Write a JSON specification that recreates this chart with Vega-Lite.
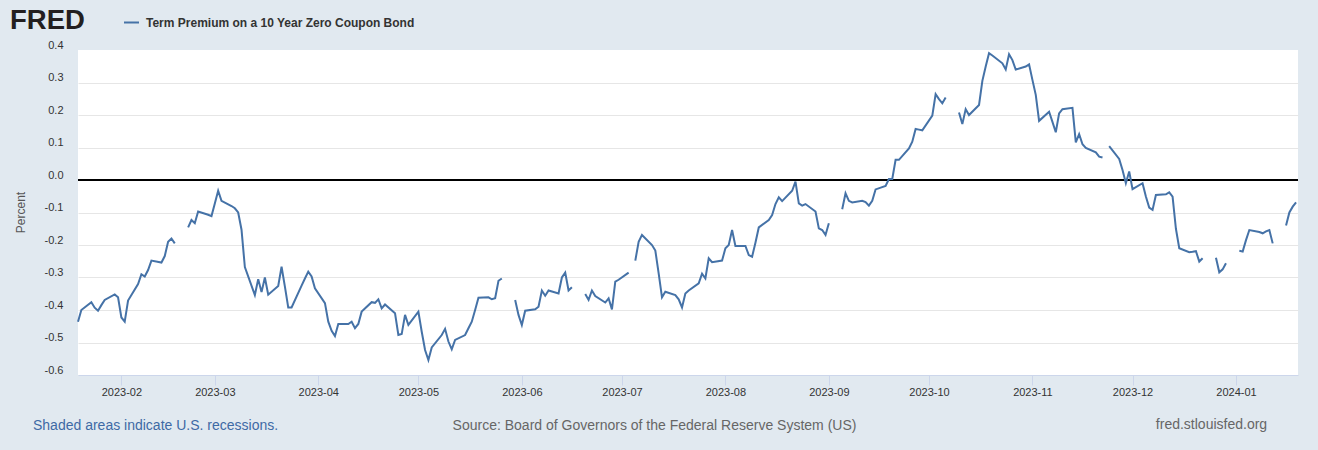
{
  "$schema": "https://vega.github.io/schema/vega-lite/v6.json",
  "width": 1220,
  "height": 325,
  "autosize": {"type": "none"},
  "padding": {"left": 78, "top": 50, "right": 20, "bottom": 75},
  "background": "#e1e9f0",
  "config": {
    "view": {"fill": "#ffffff", "stroke": null},
    "font": "Liberation Sans"
  },
  "title": {
    "text": "Shaded areas indicate U.S. recessions.",
    "orient": "bottom",
    "anchor": "start",
    "frame": "group",
    "dx": -45,
    "offset": -6,
    "baseline": "middle",
    "fontSize": 14,
    "fontWeight": "normal",
    "font": "Liberation Sans",
    "color": "#3e6aa5"
  },
  "data": {
    "values": [
      {"date": "2023-01-19", "value": -0.436},
      {"date": "2023-01-20", "value": -0.400},
      {"date": "2023-01-23", "value": -0.376},
      {"date": "2023-01-24", "value": -0.393},
      {"date": "2023-01-25", "value": -0.402},
      {"date": "2023-01-26", "value": -0.385},
      {"date": "2023-01-27", "value": -0.369},
      {"date": "2023-01-30", "value": -0.352},
      {"date": "2023-01-31", "value": -0.361},
      {"date": "2023-02-01", "value": -0.423},
      {"date": "2023-02-02", "value": -0.436},
      {"date": "2023-02-03", "value": -0.371},
      {"date": "2023-02-06", "value": -0.320},
      {"date": "2023-02-07", "value": -0.290},
      {"date": "2023-02-08", "value": -0.297},
      {"date": "2023-02-09", "value": -0.277},
      {"date": "2023-02-10", "value": -0.248},
      {"date": "2023-02-13", "value": -0.254},
      {"date": "2023-02-14", "value": -0.234},
      {"date": "2023-02-15", "value": -0.190},
      {"date": "2023-02-16", "value": -0.180},
      {"date": "2023-02-17", "value": -0.195},
      {"date": "2023-02-20", "value": null},
      {"date": "2023-02-21", "value": -0.146},
      {"date": "2023-02-22", "value": -0.123},
      {"date": "2023-02-23", "value": -0.133},
      {"date": "2023-02-24", "value": -0.097},
      {"date": "2023-02-27", "value": -0.107},
      {"date": "2023-02-28", "value": -0.111},
      {"date": "2023-03-01", "value": -0.072},
      {"date": "2023-03-02", "value": -0.033},
      {"date": "2023-03-03", "value": -0.064},
      {"date": "2023-03-06", "value": -0.080},
      {"date": "2023-03-07", "value": -0.087},
      {"date": "2023-03-08", "value": -0.100},
      {"date": "2023-03-09", "value": -0.153},
      {"date": "2023-03-10", "value": -0.268},
      {"date": "2023-03-13", "value": -0.354},
      {"date": "2023-03-14", "value": -0.305},
      {"date": "2023-03-15", "value": -0.345},
      {"date": "2023-03-16", "value": -0.300},
      {"date": "2023-03-17", "value": -0.353},
      {"date": "2023-03-20", "value": -0.326},
      {"date": "2023-03-21", "value": -0.267},
      {"date": "2023-03-22", "value": -0.328},
      {"date": "2023-03-23", "value": -0.392},
      {"date": "2023-03-24", "value": -0.392},
      {"date": "2023-03-27", "value": -0.325},
      {"date": "2023-03-28", "value": -0.303},
      {"date": "2023-03-29", "value": -0.282},
      {"date": "2023-03-30", "value": -0.297},
      {"date": "2023-03-31", "value": -0.333},
      {"date": "2023-04-03", "value": -0.379},
      {"date": "2023-04-04", "value": -0.436},
      {"date": "2023-04-05", "value": -0.464},
      {"date": "2023-04-06", "value": -0.480},
      {"date": "2023-04-07", "value": -0.443},
      {"date": "2023-04-10", "value": -0.443},
      {"date": "2023-04-11", "value": -0.436},
      {"date": "2023-04-12", "value": -0.456},
      {"date": "2023-04-13", "value": -0.443},
      {"date": "2023-04-14", "value": -0.405},
      {"date": "2023-04-17", "value": -0.376},
      {"date": "2023-04-18", "value": -0.378},
      {"date": "2023-04-19", "value": -0.367},
      {"date": "2023-04-20", "value": -0.395},
      {"date": "2023-04-21", "value": -0.383},
      {"date": "2023-04-24", "value": -0.410},
      {"date": "2023-04-25", "value": -0.477},
      {"date": "2023-04-26", "value": -0.474},
      {"date": "2023-04-27", "value": -0.415},
      {"date": "2023-04-28", "value": -0.446},
      {"date": "2023-05-01", "value": -0.405},
      {"date": "2023-05-02", "value": -0.467},
      {"date": "2023-05-03", "value": -0.523},
      {"date": "2023-05-04", "value": -0.554},
      {"date": "2023-05-05", "value": -0.515},
      {"date": "2023-05-08", "value": -0.477},
      {"date": "2023-05-09", "value": -0.458},
      {"date": "2023-05-10", "value": -0.497},
      {"date": "2023-05-11", "value": -0.521},
      {"date": "2023-05-12", "value": -0.492},
      {"date": "2023-05-15", "value": -0.477},
      {"date": "2023-05-16", "value": -0.456},
      {"date": "2023-05-17", "value": -0.436},
      {"date": "2023-05-18", "value": -0.400},
      {"date": "2023-05-19", "value": -0.362},
      {"date": "2023-05-22", "value": -0.361},
      {"date": "2023-05-23", "value": -0.367},
      {"date": "2023-05-24", "value": -0.364},
      {"date": "2023-05-25", "value": -0.310},
      {"date": "2023-05-26", "value": -0.303},
      {"date": "2023-05-29", "value": null},
      {"date": "2023-05-30", "value": -0.369},
      {"date": "2023-05-31", "value": -0.415},
      {"date": "2023-06-01", "value": -0.446},
      {"date": "2023-06-02", "value": -0.402},
      {"date": "2023-06-05", "value": -0.398},
      {"date": "2023-06-06", "value": -0.390},
      {"date": "2023-06-07", "value": -0.340},
      {"date": "2023-06-08", "value": -0.356},
      {"date": "2023-06-09", "value": -0.340},
      {"date": "2023-06-12", "value": -0.349},
      {"date": "2023-06-13", "value": -0.300},
      {"date": "2023-06-14", "value": -0.285},
      {"date": "2023-06-15", "value": -0.340},
      {"date": "2023-06-16", "value": -0.330},
      {"date": "2023-06-19", "value": null},
      {"date": "2023-06-20", "value": -0.351},
      {"date": "2023-06-21", "value": -0.369},
      {"date": "2023-06-22", "value": -0.340},
      {"date": "2023-06-23", "value": -0.357},
      {"date": "2023-06-26", "value": -0.377},
      {"date": "2023-06-27", "value": -0.364},
      {"date": "2023-06-28", "value": -0.398},
      {"date": "2023-06-29", "value": -0.313},
      {"date": "2023-06-30", "value": -0.307},
      {"date": "2023-07-03", "value": -0.285},
      {"date": "2023-07-04", "value": null},
      {"date": "2023-07-05", "value": -0.248},
      {"date": "2023-07-06", "value": -0.190},
      {"date": "2023-07-07", "value": -0.169},
      {"date": "2023-07-10", "value": -0.200},
      {"date": "2023-07-11", "value": -0.217},
      {"date": "2023-07-12", "value": -0.287},
      {"date": "2023-07-13", "value": -0.361},
      {"date": "2023-07-14", "value": -0.344},
      {"date": "2023-07-17", "value": -0.354},
      {"date": "2023-07-18", "value": -0.367},
      {"date": "2023-07-19", "value": -0.392},
      {"date": "2023-07-20", "value": -0.349},
      {"date": "2023-07-21", "value": -0.340},
      {"date": "2023-07-24", "value": -0.318},
      {"date": "2023-07-25", "value": -0.288},
      {"date": "2023-07-26", "value": -0.303},
      {"date": "2023-07-27", "value": -0.241},
      {"date": "2023-07-28", "value": -0.253},
      {"date": "2023-07-31", "value": -0.248},
      {"date": "2023-08-01", "value": -0.210},
      {"date": "2023-08-02", "value": -0.200},
      {"date": "2023-08-03", "value": -0.154},
      {"date": "2023-08-04", "value": -0.203},
      {"date": "2023-08-07", "value": -0.203},
      {"date": "2023-08-08", "value": -0.231},
      {"date": "2023-08-09", "value": -0.236},
      {"date": "2023-08-10", "value": -0.193},
      {"date": "2023-08-11", "value": -0.146},
      {"date": "2023-08-14", "value": -0.123},
      {"date": "2023-08-15", "value": -0.108},
      {"date": "2023-08-16", "value": -0.074},
      {"date": "2023-08-17", "value": -0.053},
      {"date": "2023-08-18", "value": -0.065},
      {"date": "2023-08-21", "value": -0.033},
      {"date": "2023-08-22", "value": -0.005},
      {"date": "2023-08-23", "value": -0.072},
      {"date": "2023-08-24", "value": -0.079},
      {"date": "2023-08-25", "value": -0.074},
      {"date": "2023-08-28", "value": -0.097},
      {"date": "2023-08-29", "value": -0.149},
      {"date": "2023-08-30", "value": -0.154},
      {"date": "2023-08-31", "value": -0.169},
      {"date": "2023-09-01", "value": -0.133},
      {"date": "2023-09-04", "value": null},
      {"date": "2023-09-05", "value": -0.090},
      {"date": "2023-09-06", "value": -0.041},
      {"date": "2023-09-07", "value": -0.064},
      {"date": "2023-09-08", "value": -0.069},
      {"date": "2023-09-11", "value": -0.064},
      {"date": "2023-09-12", "value": -0.068},
      {"date": "2023-09-13", "value": -0.079},
      {"date": "2023-09-14", "value": -0.064},
      {"date": "2023-09-15", "value": -0.029},
      {"date": "2023-09-18", "value": -0.018},
      {"date": "2023-09-19", "value": 0.003},
      {"date": "2023-09-20", "value": 0.003},
      {"date": "2023-09-21", "value": 0.062},
      {"date": "2023-09-22", "value": 0.062},
      {"date": "2023-09-25", "value": 0.097},
      {"date": "2023-09-26", "value": 0.118},
      {"date": "2023-09-27", "value": 0.157},
      {"date": "2023-09-28", "value": 0.155},
      {"date": "2023-09-29", "value": 0.153},
      {"date": "2023-10-02", "value": 0.198},
      {"date": "2023-10-03", "value": 0.264},
      {"date": "2023-10-04", "value": 0.249},
      {"date": "2023-10-05", "value": 0.236},
      {"date": "2023-10-06", "value": 0.254},
      {"date": "2023-10-09", "value": null},
      {"date": "2023-10-10", "value": 0.208},
      {"date": "2023-10-11", "value": 0.172},
      {"date": "2023-10-12", "value": 0.218},
      {"date": "2023-10-13", "value": 0.200},
      {"date": "2023-10-16", "value": 0.231},
      {"date": "2023-10-17", "value": 0.305},
      {"date": "2023-10-18", "value": 0.349},
      {"date": "2023-10-19", "value": 0.390},
      {"date": "2023-10-20", "value": 0.383},
      {"date": "2023-10-23", "value": 0.359},
      {"date": "2023-10-24", "value": 0.340},
      {"date": "2023-10-25", "value": 0.387},
      {"date": "2023-10-26", "value": 0.369},
      {"date": "2023-10-27", "value": 0.340},
      {"date": "2023-10-30", "value": 0.349},
      {"date": "2023-10-31", "value": 0.356},
      {"date": "2023-11-01", "value": 0.308},
      {"date": "2023-11-02", "value": 0.262},
      {"date": "2023-11-03", "value": 0.182},
      {"date": "2023-11-06", "value": 0.210},
      {"date": "2023-11-07", "value": 0.179},
      {"date": "2023-11-08", "value": 0.147},
      {"date": "2023-11-09", "value": 0.205},
      {"date": "2023-11-10", "value": 0.218},
      {"date": "2023-11-13", "value": 0.222},
      {"date": "2023-11-14", "value": 0.116},
      {"date": "2023-11-15", "value": 0.141},
      {"date": "2023-11-16", "value": 0.110},
      {"date": "2023-11-17", "value": 0.099},
      {"date": "2023-11-20", "value": 0.085},
      {"date": "2023-11-21", "value": 0.072},
      {"date": "2023-11-22", "value": 0.069},
      {"date": "2023-11-23", "value": null},
      {"date": "2023-11-24", "value": 0.104},
      {"date": "2023-11-27", "value": 0.065},
      {"date": "2023-11-28", "value": 0.031},
      {"date": "2023-11-29", "value": -0.010},
      {"date": "2023-11-30", "value": 0.026},
      {"date": "2023-12-01", "value": -0.028},
      {"date": "2023-12-04", "value": -0.010},
      {"date": "2023-12-05", "value": -0.051},
      {"date": "2023-12-06", "value": -0.085},
      {"date": "2023-12-07", "value": -0.092},
      {"date": "2023-12-08", "value": -0.046},
      {"date": "2023-12-11", "value": -0.044},
      {"date": "2023-12-12", "value": -0.038},
      {"date": "2023-12-13", "value": -0.051},
      {"date": "2023-12-14", "value": -0.150},
      {"date": "2023-12-15", "value": -0.210},
      {"date": "2023-12-18", "value": -0.222},
      {"date": "2023-12-19", "value": -0.221},
      {"date": "2023-12-20", "value": -0.219},
      {"date": "2023-12-21", "value": -0.251},
      {"date": "2023-12-22", "value": -0.241},
      {"date": "2023-12-25", "value": null},
      {"date": "2023-12-26", "value": -0.239},
      {"date": "2023-12-27", "value": -0.284},
      {"date": "2023-12-28", "value": -0.275},
      {"date": "2023-12-29", "value": -0.256},
      {"date": "2024-01-01", "value": null},
      {"date": "2024-01-02", "value": -0.218},
      {"date": "2024-01-03", "value": -0.220},
      {"date": "2024-01-04", "value": -0.185},
      {"date": "2024-01-05", "value": -0.154},
      {"date": "2024-01-08", "value": -0.160},
      {"date": "2024-01-09", "value": -0.164},
      {"date": "2024-01-10", "value": -0.158},
      {"date": "2024-01-11", "value": -0.154},
      {"date": "2024-01-12", "value": -0.195},
      {"date": "2024-01-15", "value": null},
      {"date": "2024-01-16", "value": -0.140},
      {"date": "2024-01-17", "value": -0.100},
      {"date": "2024-01-18", "value": -0.082},
      {"date": "2024-01-19", "value": -0.069}
    ]
  },
  "layer": [
    {
      "mark": {"type": "rule", "color": "#000000", "strokeWidth": 2},
      "encoding": {
        "y": {
          "datum": 0,
          "type": "quantitative",
          "scale": {"domain": [-0.6, 0.4], "nice": false, "zero": false},
          "axis": {
            "orient": "right",
            "title": "fred.stlouisfed.org",
            "titleAngle": 0,
            "titleX": -87,
            "titleY": 374,
            "titleAlign": "center",
            "titleBaseline": "middle",
            "titleFontSize": 14,
            "titleFontWeight": "normal",
            "titleFont": "Liberation Sans",
            "titleColor": "#666666",
            "labels": false,
            "ticks": false,
            "domain": false,
            "grid": false
          }
        }
      }
    },
    {
      "mark": {"type": "line", "strokeWidth": 2, "invalid": "break-paths-show-domains"},
      "encoding": {
        "x": {
          "field": "date",
          "type": "temporal",
          "scale": {
            "type": "utc",
            "domain": [
              {"year": 2023, "month": 1, "date": 19, "utc": true},
              {"year": 2024, "month": 1, "date": 19, "hours": 14, "utc": true}
            ]
          },
          "axis": {
            "labelExpr": "utcFormat(datum.value, '%Y-%m')",
            "tickCount": {"interval": "month", "step": 1},
            "grid": false,
            "domainColor": "#ccd6eb",
            "domainWidth": 1,
            "tickColor": "#ccd6eb",
            "tickSize": 10,
            "tickWidth": 1,
            "labelFontSize": 11,
            "labelFont": "Liberation Sans",
            "labelColor": "#333333",
            "labelPadding": 1,
            "labelFlush": false,
            "labelOverlap": false,
            "title": "Source: Board of Governors of the Federal Reserve System (US)",
            "titleX": 576,
            "titleY": 50,
            "titleAlign": "center",
            "titleBaseline": "middle",
            "titleFontSize": 14,
            "titleFontWeight": "normal",
            "titleFont": "Liberation Sans",
            "titleColor": "#666666"
          }
        },
        "y": {
          "field": "value",
          "type": "quantitative",
          "scale": {"domain": [-0.6, 0.4], "nice": false, "zero": false},
          "axis": {
            "values": [-0.6, -0.5, -0.4, -0.3, -0.2, -0.1, 0, 0.1, 0.2, 0.3, 0.4],
            "labelExpr": "replace(format(datum.value, '.1f'), '\u2212', '-')",
            "labelBaseline": "bottom",
            "labelFontSize": 11,
            "labelFont": "Liberation Sans",
            "labelColor": "#333333",
            "labelPadding": 15,
            "ticks": false,
            "domain": false,
            "grid": true,
            "gridColor": {"condition": {"test": "datum.value > 0.35", "value": "rgba(0,0,0,0)"}, "value": "#e6e6e6"},
            "gridWidth": 1,
            "title": "Percent",
            "titleX": -58,
            "titleY": 162,
            "titleAngle": -90,
            "titleAlign": "center",
            "titleBaseline": "middle",
            "titleFontSize": 12,
            "titleFontWeight": "normal",
            "titleFont": "Liberation Sans",
            "titleColor": "#555555"
          }
        },
        "color": {
          "datum": "Term Premium on a 10 Year Zero Coupon Bond",
          "type": "nominal",
          "scale": {"range": ["#4572a7"]},
          "legend": {
            "orient": "none",
            "legendX": -68,
            "legendY": -36,
            "direction": "horizontal",
            "padding": 0,
            "title": "FRED",
            "titleOrient": "left",
            "titleAnchor": "middle",
            "titleBaseline": "middle",
            "titleFont": "Liberation Sans",
            "titleFontSize": 27.5,
            "titleFontWeight": 900,
            "titleColor": "#231f20",
            "titlePadding": 38,
            "symbolType": "stroke",
            "symbolStrokeWidth": 2,
            "symbolSize": 225,
            "symbolStrokeColor": "#4572a7",
            "labelFont": "Liberation Sans",
            "labelFontSize": 12,
            "labelFontWeight": "bold",
            "labelColor": "#333333",
            "labelOffset": 6,
            "labelLimit": 0,
            "labelBaseline": "middle"
          }
        }
      }
    }
  ],
  "resolve": {"scale": {"y": "independent"}, "axis": {"y": "independent"}}
}
